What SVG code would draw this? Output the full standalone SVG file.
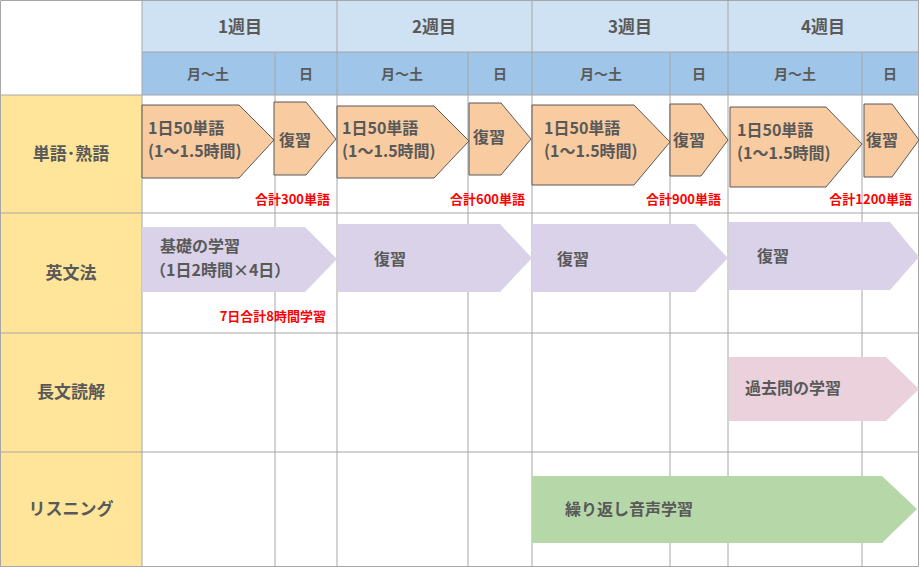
<svg xmlns="http://www.w3.org/2000/svg" width="919" height="567" viewBox="0 0 919 567">
<style>
text{font-family:"Noto Sans CJK JP","Liberation Sans",sans-serif;font-weight:bold;fill:#595959}
.h{font-size:17px;text-anchor:middle}
.s{font-size:14px;text-anchor:middle}
.r{font-size:17px;text-anchor:middle}
.t{font-size:16px}
.red{font-size:13px;fill:#ff0000;text-anchor:end}
.g{stroke:#a6a6a6;stroke-width:1;fill:none}
.o{fill:#f8cba0;stroke:#595959;stroke-width:1}
.p{fill:#d9d2e9}
.k{fill:#ead1dc}
.gr{fill:#b6d7a8}
</style>
<rect width="919" height="567" fill="#fff"/>
<g id="header">
<rect x="142" y="0" width="777" height="52" fill="#cfe2f3"/>
<rect x="142" y="52" width="777" height="43" fill="#9fc5e8"/>
<rect x="0" y="95" width="142" height="472" fill="#ffe599"/>
<text class="h" x="240" y="33">1週目</text>
<text class="h" x="434" y="33">2週目</text>
<text class="h" x="630" y="33">3週目</text>
<text class="h" x="823" y="33">4週目</text>
<text class="s" x="208" y="79">月～土</text>
<text class="s" x="306" y="79">日</text>
<text class="s" x="402" y="79">月～土</text>
<text class="s" x="500" y="79">日</text>
<text class="s" x="601" y="79">月～土</text>
<text class="s" x="699" y="79">日</text>
<text class="s" x="795" y="79">月～土</text>
<text class="s" x="890" y="79">日</text>
<text class="r" x="71" y="160">単語･熟語</text>
<text class="r" x="71" y="279">英文法</text>
<text class="r" x="71" y="398">長文読解</text>
<text class="r" x="71" y="515">リスニング</text>
</g>
<g id="grid" class="g">
<path d="M0.5 0.5H918.5V566.5H0.5Z"/>
<path d="M142 0V567M337 0V567M532 0V567M728 0V567M275 52V567M468 52V567M670 52V567M862 52V567"/>
<path d="M142 52H919M0 95H919M0 213H919M0 333H919M0 452H919"/>
</g>
<g id="vocab">
<path class="o" d="M142 105H239L274 140L239 178H142Z"/>
<text class="t" x="148" y="134">1日50単語</text><text class="t" x="148" y="157">(1～1.5時間)</text>
<path class="o" d="M274 102H306L336 139L306 175H274Z"/>
<text class="t" x="279" y="146">復習</text>
<text class="red" x="330" y="204">合計300単語</text>
<path class="o" d="M337 106H434L469 141L434 178H337Z"/>
<text class="t" x="342" y="134">1日50単語</text><text class="t" x="342" y="157">(1～1.5時間)</text>
<path class="o" d="M469 103H501L531 139L501 175H469Z"/>
<text class="t" x="473" y="143">復習</text>
<text class="red" x="525" y="204">合計600単語</text>
<path class="o" d="M532 105H634L670 142L634 185H532Z"/>
<text class="t" x="544" y="134">1日50単語</text><text class="t" x="544" y="157">(1～1.5時間)</text>
<path class="o" d="M670 104H701L728 140L701 176H670Z"/>
<text class="t" x="673" y="146">復習</text>
<text class="red" x="721" y="204">合計900単語</text>
<path class="o" d="M730 107H826L862 144L826 187H730Z"/>
<text class="t" x="737" y="136">1日50単語</text><text class="t" x="737" y="159">(1～1.5時間)</text>
<path class="o" d="M864 104H892L919 140L892 177H864Z"/>
<text class="t" x="866" y="146">復習</text>
<text class="red" x="912" y="204">合計1200単語</text>
</g>
<g id="grammar">
<path class="p" d="M142 227H305L337 259L305 292H142Z"/>
<text class="t" x="160" y="252">基礎の学習</text><text class="t" x="150" y="276">（1日2時間×4日）</text>
<text class="red" x="326" y="321">7日合計8時間学習</text>
<path class="p" d="M338 224H500L532 258L500 292H338Z"/>
<text class="t" x="374" y="265">復習</text>
<path class="p" d="M532 224H695L728 258L695 292H532Z"/>
<text class="t" x="557" y="265">復習</text>
<path class="p" d="M729 222H890L919 257L890 290H729Z"/>
<text class="t" x="757" y="262">復習</text>
</g>
<g id="reading">
<path class="k" d="M729 357H886L919 389L886 421H729Z"/>
<text class="t" x="745" y="394">過去問の学習</text>
</g>
<g id="listening">
<path class="gr" d="M532 476H882L917 509L882 543H532Z"/>
<text class="t" x="565" y="515">繰り返し音声学習</text>
</g>
</svg>
